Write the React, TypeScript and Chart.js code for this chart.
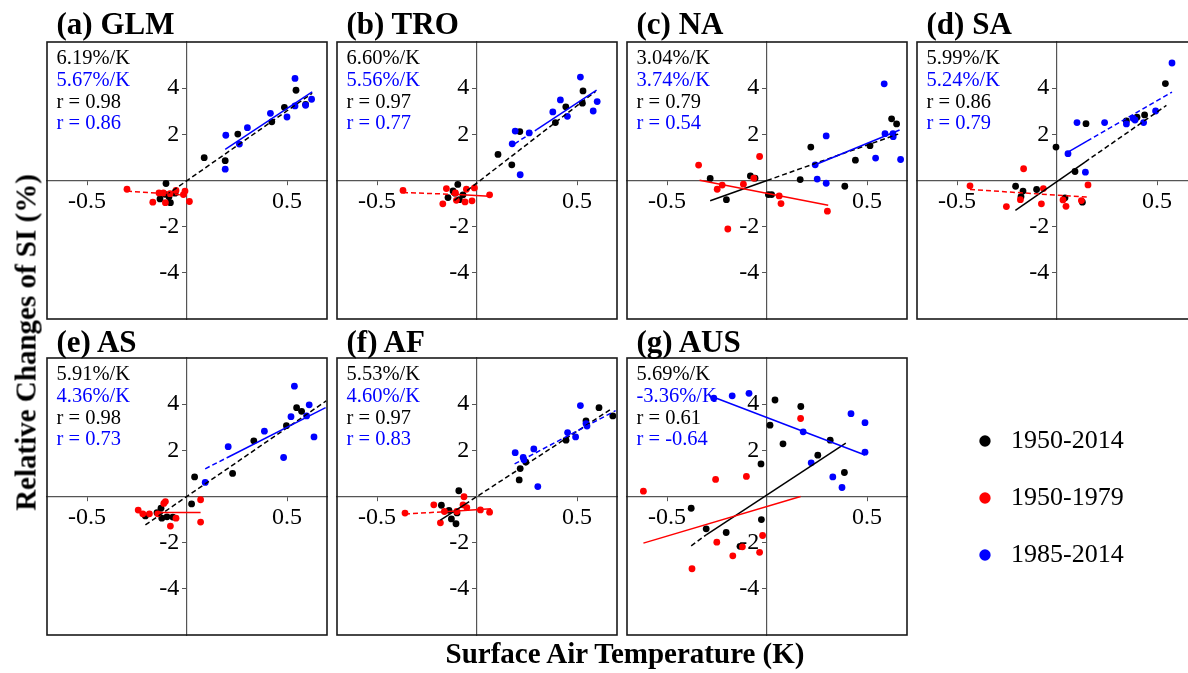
import React, { useEffect, useRef } from 'react';
import { Chart, registerables } from 'chart.js';

Chart.register(...registerables);

const FONT = "'Liberation Serif', 'Times New Roman', Times, serif";

type Pt = [number, number];

// ---------- (a) GLM ----------
const GLM_ALL: Pt[] = [[-0.105, -0.13], [-0.135, -0.8], [-0.083, -0.96], [-0.11, -0.6], [-0.09, -0.7], [-0.06, -0.55], [0.086, 0.99], [0.191, 0.86], [0.254, 2.01], [0.424, 2.54], [0.487, 3.17], [0.545, 3.91], [0.593, 3.3]];
const GLM_EARLY: Pt[] = [[-0.3, -0.38], [-0.171, -0.94], [-0.14, -0.54], [-0.118, -0.54], [-0.108, -0.96], [-0.085, -0.57], [-0.055, -0.43], [-0.018, -0.61], [-0.01, -0.46], [0.012, -0.91]];
const GLM_LATE: Pt[] = [[0.194, 1.96], [0.191, 0.49], [0.262, 1.58], [0.302, 2.29], [0.417, 2.91], [0.5, 2.75], [0.54, 4.42], [0.54, 3.23], [0.593, 3.26], [0.623, 3.52]];
const GLM_FIT_ALL: Pt[] = [[-0.105, -0.64], [0.626, 3.78]];
const GLM_FIT_EARLY: Pt[] = [[-0.3, -0.46], [0.0, -0.64]];
const GLM_FIT_LATE: Pt[] = [[0.191, 1.35], [0.626, 3.84]];
const GLM_STATS = ['6.19%/K', '5.67%/K', 'r = 0.98', 'r = 0.86'];

// ---------- (b) TRO ----------
const TRO_ALL: Pt[] = [[-0.096, -0.17], [-0.145, -0.74], [-0.088, -0.83], [-0.11, -0.55], [-0.07, -0.62], [-0.12, -0.45], [0.105, 1.13], [0.174, 0.68], [0.214, 2.12], [0.392, 2.51], [0.444, 3.19], [0.53, 3.88], [0.527, 3.35]];
const TRO_EARLY: Pt[] = [[-0.37, -0.43], [-0.171, -1.01], [-0.153, -0.35], [-0.108, -0.54], [-0.103, -0.86], [-0.06, -0.93], [-0.053, -0.38], [-0.025, -0.88], [-0.013, -0.32], [0.063, -0.62]];
const TRO_LATE: Pt[] = [[0.176, 1.59], [0.191, 2.14], [0.216, 0.25], [0.261, 2.06], [0.379, 2.97], [0.417, 3.49], [0.452, 2.78], [0.517, 4.48], [0.581, 3.01], [0.601, 3.42]];
const TRO_FIT_ALL: Pt[] = [[-0.113, -0.86], [0.593, 3.86]];
const TRO_FIT_EARLY: Pt[] = [[-0.37, -0.52], [-0.12, -0.6], [0.063, -0.68]];
const TRO_FIT_LATE: Pt[] = [[0.188, 1.59], [0.3, 2.21], [0.598, 3.91]];
const TRO_STATS = ['6.60%/K', '5.56%/K', 'r = 0.97', 'r = 0.77'];

// ---------- (c) NA ----------
const NA_ALL: Pt[] = [[-0.284, 0.09], [-0.203, -0.83], [-0.083, 0.2], [0.007, -0.61], [0.023, -0.61], [0.166, 0.04], [0.219, 1.45], [0.389, -0.25], [0.442, 0.88], [0.515, 1.51], [0.623, 2.67], [0.648, 2.45], [-0.06, 0.1]];
const NA_EARLY: Pt[] = [[-0.342, 0.67], [-0.249, -0.38], [-0.224, -0.2], [-0.196, -2.1], [-0.118, -0.16], [-0.066, 0.1], [-0.037, 1.04], [0.061, -0.67], [0.07, -1.0], [0.302, -1.33]];
const NA_LATE: Pt[] = [[0.241, 0.68], [0.251, 0.06], [0.296, 1.93], [0.296, -0.12], [0.543, 0.97], [0.586, 4.19], [0.59, 2.03], [0.631, 1.9], [0.63, 2.03], [0.668, 0.91]];
const NA_FIT_ALL: Pt[] = [[-0.284, -0.88], [0.0, 0.0], [0.656, 2.01]];
const NA_FIT_EARLY: Pt[] = [[-0.337, 0.01], [0.306, -1.07]];
const NA_FIT_LATE: Pt[] = [[0.241, 0.68], [0.663, 2.19]];
const NA_STATS = ['3.04%/K', '3.74%/K', 'r = 0.79', 'r = 0.54'];

// ---------- (d) SA ----------
const SA_ALL: Pt[] = [[-0.207, -0.25], [-0.17, -0.46], [-0.102, -0.39], [-0.18, -0.7], [-0.005, 1.45], [0.09, 0.39], [0.145, 2.46], [0.127, -0.94], [0.347, 2.58], [0.4, 2.74], [0.438, 2.84], [0.542, 4.2], [0.04, -0.75]];
const SA_EARLY: Pt[] = [[-0.435, -0.23], [-0.253, -1.13], [-0.183, -0.83], [-0.167, 0.51], [-0.078, -1.01], [-0.068, -0.35], [0.03, -0.84], [0.045, -1.12], [0.122, -0.87], [0.155, -0.19]];
const SA_LATE: Pt[] = [[0.055, 1.16], [0.1, 2.51], [0.142, 0.36], [0.238, 2.51], [0.347, 2.45], [0.38, 2.7], [0.39, 2.62], [0.433, 2.51], [0.493, 3.01], [0.575, 5.09]];
const SA_FIT_ALL: Pt[] = [[-0.208, -1.29], [0.14, 0.8], [0.547, 3.25]];
const SA_FIT_EARLY: Pt[] = [[-0.435, -0.39], [0.155, -0.72]];
const SA_FIT_LATE: Pt[] = [[0.055, 1.23], [0.15, 1.71], [0.575, 3.83]];
const SA_STATS = ['5.99%/K', '5.24%/K', 'r = 0.86', 'r = 0.79'];

// ---------- (e) AS ----------
const AS_ALL: Pt[] = [[-0.13, -0.51], [-0.126, -0.94], [-0.208, -0.84], [-0.1, -0.88], [-0.071, -0.89], [-0.15, -0.7], [0.023, -0.32], [0.038, 0.85], [0.228, 1.0], [0.334, 2.41], [0.497, 3.07], [0.548, 3.85], [0.573, 3.69]];
const AS_EARLY: Pt[] = [[-0.244, -0.59], [-0.221, -0.75], [-0.188, -0.75], [-0.146, -0.75], [-0.116, -0.3], [-0.108, -0.22], [-0.083, -1.28], [-0.055, -0.94], [0.068, -0.14], [0.068, -1.11]];
const AS_LATE: Pt[] = [[0.091, 0.61], [0.206, 2.16], [0.387, 2.83], [0.483, 1.69], [0.52, 3.46], [0.537, 4.78], [0.598, 3.49], [0.611, 3.97], [0.635, 2.58]];
const AS_FIT_ALL: Pt[] = [[-0.208, -1.23], [0.696, 4.14]];
const AS_FIT_EARLY: Pt[] = [[-0.24, -0.69], [-0.15, -0.69], [0.068, -0.69]];
const AS_FIT_LATE: Pt[] = [[0.091, 1.2], [0.2, 1.68], [0.693, 3.85]];
const AS_STATS = ['5.91%/K', '4.36%/K', 'r = 0.98', 'r = 0.73'];

// ---------- (f) AF ----------
const AF_ALL: Pt[] = [[-0.178, -0.38], [-0.091, 0.25], [-0.128, -0.97], [-0.105, -1.18], [-0.1, -0.71], [-0.14, -0.6], [0.211, 0.72], [0.216, 1.21], [0.244, 1.49], [0.445, 2.44], [0.545, 3.28], [0.61, 3.85], [0.679, 3.49]];
const AF_EARLY: Pt[] = [[-0.36, -0.72], [-0.216, -0.36], [-0.183, -1.14], [-0.163, -0.65], [-0.101, -0.65], [-0.07, -0.36], [-0.065, -0.01], [-0.051, -0.48], [0.017, -0.58], [0.063, -0.68]];
const AF_LATE: Pt[] = [[0.191, 1.9], [0.231, 1.69], [0.284, 2.06], [0.304, 0.43], [0.453, 2.77], [0.493, 2.58], [0.517, 3.94], [0.545, 3.16], [0.235, 1.59], [0.55, 3.05]];
const AF_FIT_ALL: Pt[] = [[-0.183, -1.02], [-0.06, -0.34], [0.676, 3.82]];
const AF_FIT_EARLY: Pt[] = [[-0.36, -0.76], [-0.2, -0.68], [0.07, -0.53]];
const AF_FIT_LATE: Pt[] = [[0.188, 1.41], [0.693, 3.72]];
const AF_STATS = ['5.53%/K', '4.60%/K', 'r = 0.97', 'r = 0.83'];

// ---------- (g) AUS ----------
const AUS_ALL: Pt[] = [[-0.379, -0.51], [-0.304, -1.4], [-0.204, -1.56], [-0.135, -2.16], [-0.03, 1.41], [-0.028, -1.0], [0.015, 3.09], [0.04, 4.18], [0.08, 2.28], [0.169, 3.9], [0.254, 1.79], [0.316, 2.44], [0.387, 1.04]];
const AUS_EARLY: Pt[] = [[-0.618, 0.23], [-0.375, -3.13], [-0.257, 0.74], [-0.251, -1.98], [-0.171, -2.57], [-0.123, -2.18], [-0.103, 0.87], [-0.037, -2.42], [-0.022, -1.69], [0.168, 3.38]];
const AUS_LATE: Pt[] = [[-0.266, 4.26], [-0.174, 4.36], [-0.09, 4.47], [0.181, 2.8], [0.221, 1.46], [0.329, 0.85], [0.375, 0.39], [0.42, 3.59], [0.49, 3.2], [0.49, 1.92]];
const AUS_FIT_ALL: Pt[] = [[-0.379, -2.14], [-0.304, -1.66], [0.394, 2.31]];
const AUS_FIT_EARLY: Pt[] = [[-0.618, -2.02], [0.168, 0.0]];
const AUS_FIT_LATE: Pt[] = [[-0.266, 4.3], [0.49, 1.8]];
const AUS_STATS = ['5.69%/K', '-3.36%/K', 'r = 0.61', 'r = -0.64'];

// ---------- axes / legend ----------
const X_TICKS = [-0.5, 0.5];
const Y_TICKS = [-4, -2, 2, 4];
const X_MIN = -0.7;
const X_MAX = 0.7;
const Y_MIN = -6;
const Y_MAX = 6;
const LEGEND_LABELS = ['1950-2014', '1950-1979', '1985-2014'];
const Y_TITLE = 'Relative Changes of SI (%)';
const X_TITLE = 'Surface Air Temperature (K)';

// ---------- styles / layout ----------
const COLORS = ['#000000', '#ff0000', '#0000ff'];
const STAT_COLORS = ['#000000', '#0000ff', '#000000', '#0000ff'];
const PANEL_W = 280;
const PANEL_H = 277;
const PAD = 40;
const COL_X = [47, 337, 627, 917];
const ROW_Y = [42, 358];
const TITLE_BASE = [34.3, 352];
const Y_LABEL_GAP = 0.039; // horizontal gap (in x units) between the zero line and y tick labels

interface PanelDef {
  title: string;
  col: number;
  row: number;
  all: Pt[];
  early: Pt[];
  late: Pt[];
  fitAll: Pt[];
  fitEarly: Pt[];
  fitLate: Pt[];
  dashAll: boolean[];
  dashEarly: boolean[];
  dashLate: boolean[];
  stats: string[];
}

const PANELS: PanelDef[] = [
  { title: '(a) GLM', col: 0, row: 0, all: GLM_ALL, early: GLM_EARLY, late: GLM_LATE, fitAll: GLM_FIT_ALL, fitEarly: GLM_FIT_EARLY, fitLate: GLM_FIT_LATE, dashAll: [true], dashEarly: [true], dashLate: [false], stats: GLM_STATS },
  { title: '(b) TRO', col: 1, row: 0, all: TRO_ALL, early: TRO_EARLY, late: TRO_LATE, fitAll: TRO_FIT_ALL, fitEarly: TRO_FIT_EARLY, fitLate: TRO_FIT_LATE, dashAll: [true], dashEarly: [true, false], dashLate: [true, false], stats: TRO_STATS },
  { title: '(c) NA', col: 2, row: 0, all: NA_ALL, early: NA_EARLY, late: NA_LATE, fitAll: NA_FIT_ALL, fitEarly: NA_FIT_EARLY, fitLate: NA_FIT_LATE, dashAll: [false, true], dashEarly: [false], dashLate: [false], stats: NA_STATS },
  { title: '(d) SA', col: 3, row: 0, all: SA_ALL, early: SA_EARLY, late: SA_LATE, fitAll: SA_FIT_ALL, fitEarly: SA_FIT_EARLY, fitLate: SA_FIT_LATE, dashAll: [false, true], dashEarly: [true], dashLate: [false, true], stats: SA_STATS },
  { title: '(e) AS', col: 0, row: 1, all: AS_ALL, early: AS_EARLY, late: AS_LATE, fitAll: AS_FIT_ALL, fitEarly: AS_FIT_EARLY, fitLate: AS_FIT_LATE, dashAll: [true], dashEarly: [true, false], dashLate: [true, false], stats: AS_STATS },
  { title: '(f) AF', col: 1, row: 1, all: AF_ALL, early: AF_EARLY, late: AF_LATE, fitAll: AF_FIT_ALL, fitEarly: AF_FIT_EARLY, fitLate: AF_FIT_LATE, dashAll: [false, true], dashEarly: [true, false], dashLate: [true], stats: AF_STATS },
  { title: '(g) AUS', col: 2, row: 1, all: AUS_ALL, early: AUS_EARLY, late: AUS_LATE, fitAll: AUS_FIT_ALL, fitEarly: AUS_FIT_EARLY, fitLate: AUS_FIT_LATE, dashAll: [true, false], dashEarly: [false], dashLate: [false], stats: AUS_STATS },
];

const framePlugin = {
  id: 'panelFrame',
  afterDraw(chart: any) {
    const { ctx, chartArea } = chart;
    ctx.save();
    ctx.strokeStyle = '#1a1a1a';
    ctx.lineWidth = 1.6;
    ctx.strokeRect(chartArea.left, chartArea.top, chartArea.right - chartArea.left, chartArea.bottom - chartArea.top);
    ctx.restore();
  },
};

const toXY = (pts: Pt[]) => pts.map(([x, y]) => ({ x, y }));

function Panel({ def }: { def: PanelDef }) {
  const ref = useRef<HTMLCanvasElement>(null);
  useEffect(() => {
    const canvas = ref.current;
    if (!canvas) return;
    const fit = (pts: Pt[], dashes: boolean[], color: string) => ({
      type: 'line',
      data: toXY(pts),
      showLine: true,
      borderColor: color,
      borderWidth: 1.5,
      pointRadius: 0,
      fill: false,
      tension: 0,
      segment: { borderDash: (c: any) => (dashes[c.p0DataIndex] ? [5, 3] : []) },
    });
    const dots = (pts: Pt[], color: string) => ({
      type: 'scatter',
      data: toXY(pts),
      showLine: false,
      pointRadius: 3.4,
      pointBackgroundColor: color,
      backgroundColor: color,
      pointBorderWidth: 0,
      borderWidth: 0,
    });
    const tickFont = { family: FONT, size: 24 };
    const setYTicks = (axis: any) => {
      axis.ticks = Y_TICKS.map((v) => ({ value: v }));
    };
    const chart = new Chart(canvas, {
      type: 'scatter',
      data: {
        datasets: [
          fit(def.fitLate, def.dashLate, COLORS[2]),
          fit(def.fitEarly, def.dashEarly, COLORS[1]),
          fit(def.fitAll, def.dashAll, COLORS[0]),
          dots(def.late, COLORS[2]),
          dots(def.early, COLORS[1]),
          dots(def.all, COLORS[0]),
        ] as any,
      },
      options: {
        animation: false,
        responsive: false,
        events: [],
        layout: { padding: PAD },
        plugins: { legend: { display: false }, tooltip: { enabled: false }, title: { display: false } },
        scales: {
          x: {
            type: 'linear',
            min: X_MIN,
            max: X_MAX,
            position: { y: 0 } as any,
            afterBuildTicks: (axis: any) => {
              axis.ticks = X_TICKS.map((v) => ({ value: v }));
            },
            ticks: { color: '#000', font: tickFont, padding: 3, maxRotation: 0, autoSkip: false },
            grid: { display: true, drawOnChartArea: false, drawTicks: true, tickLength: 4, color: '#555' },
            border: { display: true, color: '#555', width: 1.2 },
          },
          y: {
            type: 'linear',
            min: Y_MIN,
            max: Y_MAX,
            position: { x: 0 } as any,
            afterBuildTicks: setYTicks,
            ticks: { display: false },
            grid: { display: true, drawOnChartArea: false, drawTicks: true, tickLength: 4, color: '#555' },
            border: { display: true, color: '#555', width: 1.2 },
          },
          yLabels: {
            type: 'linear',
            axis: 'y',
            min: Y_MIN,
            max: Y_MAX,
            position: { x: -Y_LABEL_GAP } as any,
            afterBuildTicks: setYTicks,
            ticks: { color: '#000', font: tickFont, padding: 0, autoSkip: false },
            grid: { display: false },
            border: { display: false },
          },
        },
      } as any,
      plugins: [framePlugin],
    });
    return () => chart.destroy();
  }, [def]);
  const w = PANEL_W + 2 * PAD;
  const h = PANEL_H + 2 * PAD;
  return (
    <canvas
      ref={ref}
      width={w}
      height={h}
      style={{ position: 'absolute', left: COL_X[def.col] - PAD, top: ROW_Y[def.row] - PAD, width: w, height: h }}
    />
  );
}

function Legend() {
  const ref = useRef<HTMLCanvasElement>(null);
  useEffect(() => {
    const canvas = ref.current;
    if (!canvas) return;
    const chart = new Chart(canvas, {
      type: 'scatter',
      data: {
        datasets: LEGEND_LABELS.map((label, i) => ({
          label,
          data: [],
          backgroundColor: COLORS[i],
          borderColor: COLORS[i],
          pointBackgroundColor: COLORS[i],
          borderWidth: 0,
          pointBorderWidth: 0,
          pointStyle: 'circle',
        })),
      },
      options: {
        animation: false,
        responsive: false,
        events: [],
        layout: { padding: 0 },
        plugins: {
          tooltip: { enabled: false },
          legend: {
            display: true,
            position: 'left',
            align: 'start',
            maxWidth: 320,
            labels: {
              usePointStyle: true,
              boxWidth: 26,
              boxHeight: 8,
              padding: 31,
              color: '#000',
              font: { family: FONT, size: 26 },
            },
          },
        },
        scales: { x: { display: false }, y: { display: false } },
      } as any,
    });
    return () => chart.destroy();
  }, []);
  return <canvas ref={ref} width={700} height={260} style={{ position: 'absolute', left: 941, top: 397, width: 700, height: 260 }} />;
}

export default function App() {
  return (
    <div
      style={{
        position: 'absolute',
        left: 0,
        top: 0,
        width: 1188,
        height: 673,
        overflow: 'hidden',
        background: '#ffffff',
        fontFamily: FONT,
        color: '#000',
      }}
    >
      {PANELS.map((p) => (
        <Panel key={p.title} def={p} />
      ))}
      {PANELS.map((p) => (
        <div
          key={p.title + '-t'}
          style={{
            position: 'absolute',
            left: COL_X[p.col] + 9.5,
            top: TITLE_BASE[p.row] - 25.9,
            fontSize: 31,
            lineHeight: '31px',
            fontWeight: 'bold',
            whiteSpace: 'nowrap',
          }}
        >
          {p.title}
        </div>
      ))}
      {PANELS.map((p) => (
        <div
          key={p.title + '-s'}
          style={{
            position: 'absolute',
            left: COL_X[p.col] + 9.5,
            top: ROW_Y[p.row] + 5,
            fontSize: 20.5,
            lineHeight: '21.8px',
            whiteSpace: 'nowrap',
          }}
        >
          {p.stats.map((s, i) => (
            <div key={i} style={{ color: STAT_COLORS[i] }}>
              {s}
            </div>
          ))}
        </div>
      ))}
      <Legend />
      <div
        style={{
          position: 'absolute',
          left: 25.7 - 250,
          top: 342 - 14.5,
          width: 500,
          height: 29,
          fontSize: 29,
          lineHeight: '29px',
          fontWeight: 'bold',
          textAlign: 'center',
          whiteSpace: 'nowrap',
          transform: 'rotate(-90deg)',
          transformOrigin: '50% 50%',
        }}
      >
        {Y_TITLE}
      </div>
      <div
        style={{
          position: 'absolute',
          left: 625 - 300,
          top: 663.3 - 24.2,
          width: 600,
          fontSize: 29,
          lineHeight: '29px',
          fontWeight: 'bold',
          textAlign: 'center',
          whiteSpace: 'nowrap',
        }}
      >
        {X_TITLE}
      </div>
    </div>
  );
}
